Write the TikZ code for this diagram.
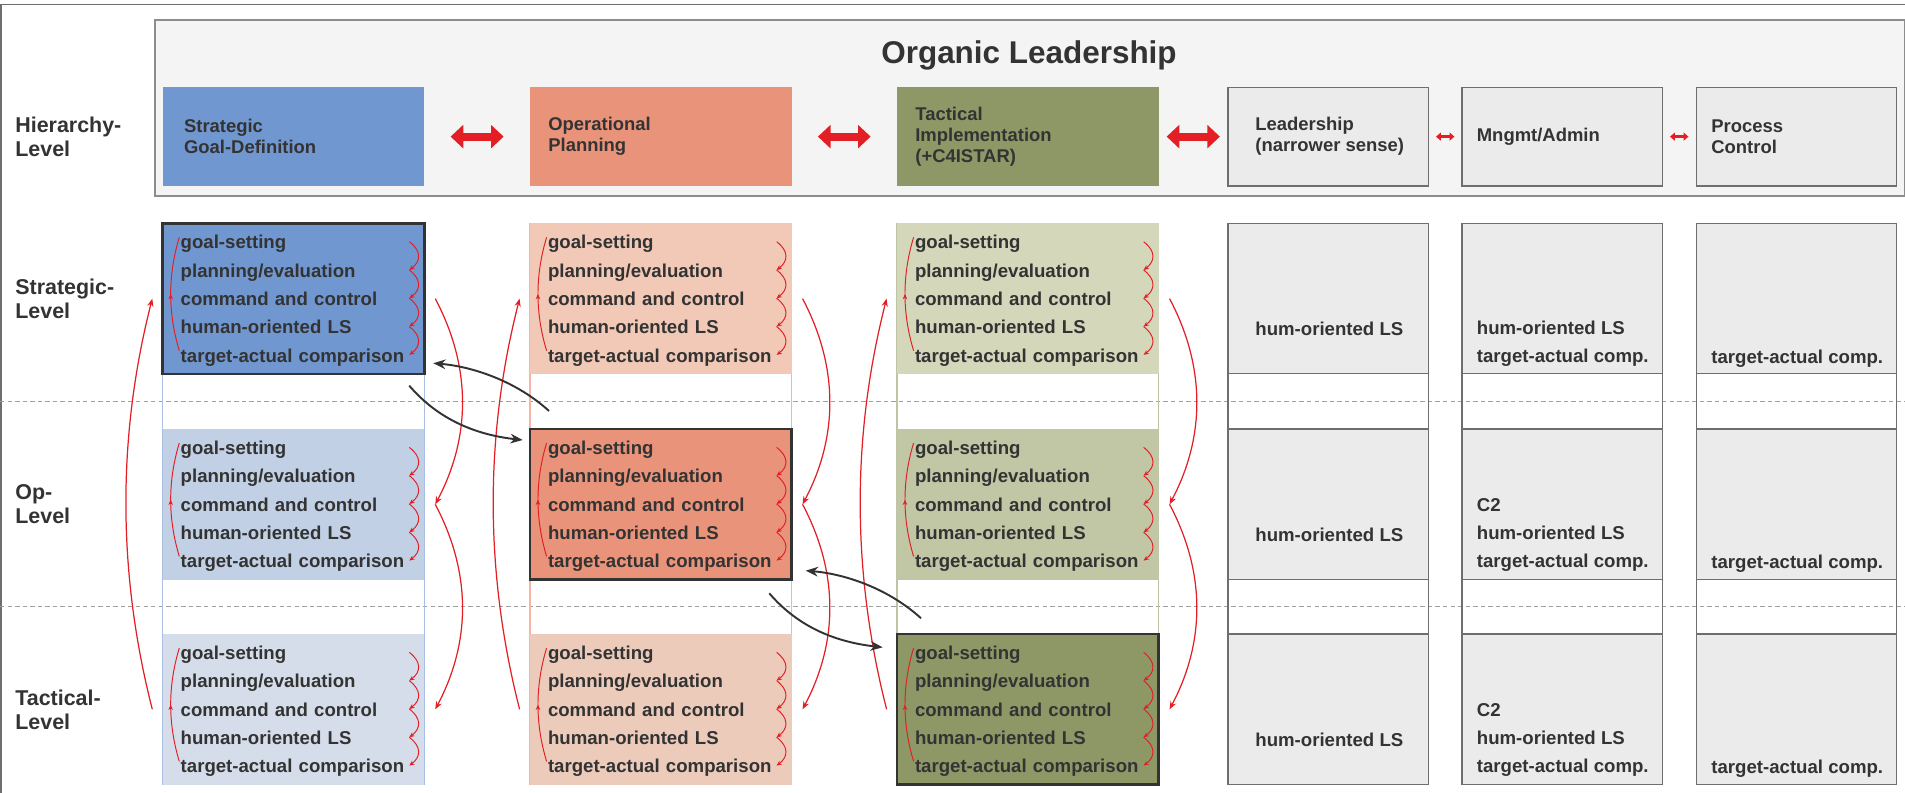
\documentclass[tikz,border=0pt]{standalone}
\usepackage{fontspec}
\setmainfont{Liberation Sans}
\setsansfont{Liberation Sans}
\usetikzlibrary{positioning,arrows.meta,decorations.markings}

\definecolor{ink}{HTML}{333333}
\definecolor{hred}{HTML}{E31E24}
\definecolor{stratA}{HTML}{7197D0}
\definecolor{stratB}{HTML}{C1D0E4}
\definecolor{stratC}{HTML}{D6DDEA}
\definecolor{stratL}{HTML}{A9C0E2}
\definecolor{opA}{HTML}{E9937B}
\definecolor{opB}{HTML}{F1C9B6}
\definecolor{opC}{HTML}{ECCBBA}
\definecolor{opL}{HTML}{F3B5A4}
\definecolor{tacA}{HTML}{8D9866}
\definecolor{tacB}{HTML}{D5D7BA}
\definecolor{tacC}{HTML}{C1C6A5}
\definecolor{tacL}{HTML}{BFC4A4}
\definecolor{gfill}{HTML}{EBEBEB}
\definecolor{gline}{HTML}{6E6E6E}
\definecolor{pane}{HTML}{F4F4F4}

\newcommand{\fivesteps}{\rule{0pt}{10pt}goal-setting\\planning/evaluation\\command and control\\human-oriented LS\\target-actual comparison}

\begin{document}
\begin{tikzpicture}[
      x=0.02cm, y=-0.02cm,
      font=\bfseries, text=ink,
      colframe/.style = {draw=#1, line width=0.6pt, anchor=north west, inner sep=0pt, outer sep=0pt, minimum width=5.232cm, minimum height=11.22cm},
      gframe/.style = {draw=gline, line width=0.6pt, anchor=north west, inner sep=0pt, outer sep=0pt, minimum width=4.01cm, minimum height=11.22cm},
      cell/.style = {fill=#1, anchor=north west, inner xsep=0.36cm, inner ysep=0pt, outer sep=0pt, text width=4.512cm, minimum height=3.014cm, align=left, font=\bfseries\fontsize{10.6}{16.1}\selectfont},
      hot/.style = {draw=ink, line width=1.6pt},
      gcell/.style = {fill=gfill, draw=gline, line width=0.6pt, anchor=north west, inner sep=0pt, outer sep=0pt, minimum width=4.01cm, minimum height=3.014cm},
      hdr/.style = {fill=#1, anchor=north west, inner sep=0pt, outer sep=0pt, minimum width=5.232cm, minimum height=1.974cm},
      ghdr/.style = {fill=gfill, draw=gline, line width=0.6pt, anchor=north west, inner sep=0pt, outer sep=0pt, minimum width=4.01cm, minimum height=1.974cm},
      htxt/.style = {anchor=west, align=left, inner sep=0pt, font=\bfseries\fontsize{10.5}{12}\selectfont},
      itxt/.style = {anchor=west, align=left, inner sep=0pt, font=\bfseries\fontsize{10.6}{16.1}\selectfont},
      lvl/.style = {anchor=west, align=left, inner sep=0pt, font=\bfseries\fontsize{12.2}{13.7}\selectfont},
      lvlsep/.style = {draw=gray!75, line width=0.5pt, dash pattern=on 2.5pt off 1.8pt},
      fat/.style = {draw=hred, line width=4.7pt, {Triangle[length=7.2pt,width=13pt]}-{Triangle[length=7.2pt,width=13pt]}},
      slim/.style = {draw=hred, line width=1.7pt, {Triangle[length=2.8pt,width=4.6pt]}-{Triangle[length=2.8pt,width=4.6pt]}},
      link/.style = {draw=hred, line width=0.7pt, -{Stealth[length=4.5pt,width=3.5pt]}},
      inarc/.style = {draw=hred, line width=0.55pt, -{Stealth[length=3pt,width=2.6pt]}},
      inloop/.style = {draw=hred, line width=0.55pt, postaction={decorate},
        decoration={markings, mark=at position 0.5 with {\arrow{Stealth[length=3pt,width=2.6pt]}}}},
      flow/.style = {draw=ink, line width=1.1pt, -{Stealth[length=7pt,width=5.5pt]}},
    ]
    \useasboundingbox (0,0) rectangle (1905,793);

    % frame and level separators
    \draw[draw=gline, line width=0.85pt] (1,793) -- (1,4.3) -- (1905,4.3);
    \draw[lvlsep] (0,401.3) -- (1905,401.3);
    \draw[lvlsep] (0,606.7) -- (1905,606.7);

    % top panel
    \node[fill=pane, draw=gray!90, line width=1pt, anchor=north west, inner sep=0pt, minimum width=35cm, minimum height=3.52cm] (org) at (154,19) {};
    \node[font=\bfseries\fontsize{17.9}{20}\selectfont] (title) at (1029,55) {Organic Leadership};

    \node[lvl] (lh) at (15,137) {Hierarchy-\\Level};
    \node[lvl] (ls) at (15,299) {Strategic-\\Level};
    \node[lvl] (lo) at (15,504) {Op-\\Level};
    \node[lvl] (lt) at (15,709.5) {Tactical-\\Level};

    % hierarchy headers
    \node[hdr=stratA] (hs) at (162.7,87.3) {};
    \node[hdr=opA] (ho) at (530,87.3) {};
    \node[hdr=tacA] (ht) at (897,87.3) {};
    \node[ghdr] (hl) at (1228,87.3) {};
    \node[ghdr] (hm) at (1462,87.3) {};
    \node[ghdr] (hp) at (1696,87.3) {};
    \node[htxt] (hsl) at ([shift={(21,0)}]hs.west) {Strategic\\Goal-Definition};
    \node[htxt] (hol) at ([shift={(18,0)}]ho.west) {Operational\\Planning};
    \node[htxt] (htl) at ([shift={(18,0)}]ht.west) {Tactical\\Implementation\\(+C4ISTAR)};
    \node[htxt] (hll) at ([shift={(27,0)}]hl.west) {Leadership\\(narrower sense)};
    \node[htxt] (hml) at ([shift={(14.5,0)}]hm.west) {Mngmt/Admin};
    \node[htxt] (hpl) at ([shift={(15,0)}]hp.west) {Process\\Control};

    \draw[fat, shorten <=15pt, shorten >=15pt] (hs) -- (ho);
    \draw[fat, shorten <=15pt, shorten >=15pt] (ho) -- (ht);
    \draw[fat, shorten <=4.6pt, shorten >=4.6pt] (ht) -- (hl);
    \draw[slim, shorten <=4.3pt, shorten >=4.3pt] (hl) -- (hm);
    \draw[slim, shorten <=4.3pt, shorten >=4.3pt] (hm) -- (hp);

    % columns
    \node[colframe=stratL] (cs) at (162.7,223.3) {};
    \node[colframe=opL] (co) at (530,223.3) {};
    \node[colframe=tacL] (ct) at (897,223.3) {};
    \node[gframe] (cl) at (1228,223.3) {};
    \node[gframe] (cm) at (1462,223.3) {};
    \node[gframe] (cp) at (1696,223.3) {};

    \node[cell=stratA, hot] (s1) at (162.7,223.3) {\fivesteps};
    \node[cell=stratB] (s2) at (162.7,429) {\fivesteps};
    \node[cell=stratC] (s3) at (162.7,634) {\fivesteps};
    \node[cell=opB] (o1) at (530,223.3) {\fivesteps};
    \node[cell=opA, hot] (o2) at (530,429) {\fivesteps};
    \node[cell=opC] (o3) at (530,634) {\fivesteps};
    \node[cell=tacB] (t1) at (897,223.3) {\fivesteps};
    \node[cell=tacC] (t2) at (897,429) {\fivesteps};
    \node[cell=tacA, hot] (t3) at (897,634) {\fivesteps};

    \foreach \c/\x in {l/1228, m/1462, p/1696}
      \foreach \r/\y in {1/223.3, 2/429, 3/634}
        \node[gcell] (\c\r) at (\x,\y) {};

    \node[itxt] (l1a) at ([shift={(27,106)}]l1.north west) {hum-oriented LS};
    \node[itxt] (m1a) at ([shift={(14.5,120.5)}]m1.north west) {hum-oriented LS\\target-actual comp.};
    \node[itxt] (p1a) at ([shift={(15,135)}]p1.north west) {target-actual comp.};
    \foreach \r in {2,3} {
      \node[itxt] (l\r a) at ([shift={(27,106)}]l\r.north west) {hum-oriented LS};
      \node[itxt] (m\r a) at ([shift={(14.5,106)}]m\r.north west) {C2\\hum-oriented LS\\target-actual comp.};
      \node[itxt] (p\r a) at ([shift={(15,135)}]p\r.north west) {target-actual comp.};
    }

    % loops inside the cells
    \foreach \c in {s1,s2,s3,o1,o2,o3,t1,t2,t3} {
      \draw[inloop] ([shift={(16.6,127.4)}]\c.north west) .. controls +(-11.5,-38) and +(-11.5,38) .. ([shift={(16.6,14)}]\c.north west);
      \foreach \k in {0,...,3}
        \draw[inarc] ([shift={(246.6,18.4+28.3*\k)}]\c.north west) .. controls +(12,9) and +(12,-9) .. ([shift={(246.6,46.7+28.3*\k)}]\c.north west);
    }

    % links between levels
    \foreach \c in {s,o,t} {
      \draw[link] ([shift={(-10.4,0)}]\c3.west) .. controls +(-35,-137) and +(-35,137) .. ([shift={(-10.4,0)}]\c1.west);
      \draw[link] ([shift={(11,0)}]\c1.east) .. controls +(36,68) and +(36,-68) .. ([shift={(11,0)}]\c2.east);
      \draw[link] ([shift={(11,0)}]\c2.east) .. controls +(36,68) and +(36,-68) .. ([shift={(11,0)}]\c3.east);
    }

    \draw[flow] ([shift={(19,37)}]o1.south west) .. controls +(-34,-31) and +(37,3) .. ([shift={(9,-10.7)}]s1.south east);
    \draw[flow] ([shift={(-15,11.7)}]s1.south east) .. controls +(30,35) and +(-45,-5) .. ([shift={(-7.3,11)}]o2.north west);
    \draw[flow] ([shift={(24,38.6)}]t2.south west) .. controls +(-34,-31) and +(37,3) .. ([shift={(14.1,-9)}]o2.south east);
    \draw[flow] ([shift={(-22.3,13.6)}]o2.south east) .. controls +(30,35) and +(-45,-5) .. ([shift={(-14.3,13.3)}]t3.north west);
  \end{tikzpicture}
\end{document}
